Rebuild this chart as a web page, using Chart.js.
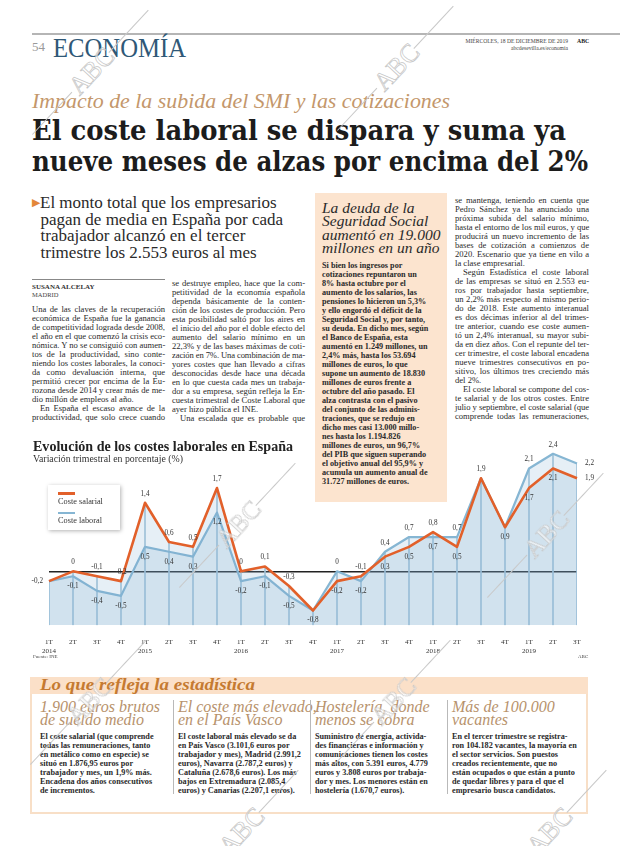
<!DOCTYPE html>
<html lang="es">
<head>
<meta charset="utf-8">
<script src="https://cdn.jsdelivr.net/npm/chart.js@4.4.1/dist/chart.umd.min.js"></script>
<style>
body{margin:0;background:#fff}
#page{position:relative;width:620px;height:846px;overflow:hidden;font-family:"Liberation Serif",serif;color:#222;background:#fff}
.a{position:absolute}
.fit{white-space:nowrap;transform-origin:0 0;display:inline-block}
.col{position:absolute;font-size:8.6px;color:#2a2a2a}
.col .l{height:9px;line-height:9px;white-space:nowrap;text-align:justify;text-align-last:justify}
.col .l.end{text-align-last:left}
.col .l.ind{text-indent:8px}
.rag .l{text-align:left;text-align-last:left}
.bold{font-weight:bold}
.sep{position:absolute;width:1px;background:#b9b9b9}
.wm{position:absolute;width:170px;height:30px;transform-origin:50% 50%;pointer-events:none}
.wm .ln{position:absolute;left:0;right:0;top:15px;height:1px;background:#c8c8c8}
.wm .tx{position:absolute;left:60px;width:50px;top:1px;text-align:center;font:26px "Liberation Serif",serif;color:rgba(255,255,255,.6);-webkit-text-stroke:.7px #c4c4c4}
</style>
</head>
<body>
<div id="page">
  <!-- cabecera -->
  <div class="a" style="left:32px;top:33px;width:588px;height:2px;background:#b5b5b5"></div>
  <div class="a" style="left:32px;top:39px;font-size:13px;color:#9a9a9a">54</div>
  <div class="a fit" data-w="133" style="left:53px;top:33px;font-size:27px;color:#2f5877">ECONOMÍA</div>
  <div class="a" style="left:440px;top:38px;width:128px;text-align:right;font-size:5.6px;line-height:7px;color:#444">MIÉRCOLES, 18 DE DICIEMBRE DE 2019<br>abcdesevilla.es/economia</div>
  <div class="a bold" style="left:577px;top:38px;font-size:5.8px;line-height:7px">ABC</div>

  <div class="a fit" data-w="418" style="left:32px;top:89px;font-size:21px;font-style:italic;color:#c4976b">Impacto de la subida del SMI y las cotizaciones</div>
  <div class="a fit" data-w="534" style="left:32px;top:115px;font-family:'DejaVu Serif',serif;font-weight:bold;font-size:27px;color:#1c1c1c">El coste laboral se dispara y suma ya</div>
  <div class="a fit" data-w="556" style="left:32px;top:146px;font-family:'DejaVu Serif',serif;font-weight:bold;font-size:27px;color:#1c1c1c">nueve meses de alzas por encima del 2%</div>

  <div class="a" style="left:32px;top:194px;font-size:17px;line-height:16.7px;color:#2a2a2a;white-space:nowrap">
    <span style="color:#e3873a;font-size:11px;vertical-align:2px">▶</span>El monto total que los empresarios<br>
    &nbsp;&nbsp;pagan de media en España por cada<br>
    &nbsp;&nbsp;trabajador alcanzó en el tercer<br>
    &nbsp;&nbsp;trimestre los 2.553 euros al mes
  </div>

  <div class="a" style="left:32px;top:279px;width:133px;height:1px;background:#888"></div>
  <div class="a bold" style="left:32px;top:283px;font-size:7px;color:#333">SUSANA ALCELAY</div>
  <div class="a" style="left:32px;top:291px;font-size:6.5px;color:#444">MADRID</div>

  <div class="col" id="c1" style="left:32px;top:304.5px;width:133px"></div>
  <div class="col" id="c2" style="left:172px;top:278.5px;width:133px"></div>

  <div class="a" style="left:315px;top:193px;width:132px;height:309px;background:#fce4cf"></div>
  <div class="a" style="left:322px;top:201px;font-size:15.5px;line-height:13.4px;font-style:italic;color:#2a2a2a;white-space:nowrap">La deuda de la<br>Seguridad Social<br>aumentó en 19.000<br>millones en un año</div>
  <div class="col rag bold" id="c3" style="left:322px;top:260.5px;width:124px;font-size:8.2px"></div>

  <div class="col" id="c4" style="left:455px;top:195.5px;width:134px"></div>

  <!-- gráfico -->
  <div class="a" style="left:0;top:436px;width:620px;height:232px">
    <canvas id="chart" width="620" height="232"></canvas>
  </div>
  <div class="a fit bold" data-w="260" style="left:33px;top:438px;font-size:14.5px;color:#222">Evolución de los costes laborales en España</div>
  <div class="a fit" data-w="150" style="left:33px;top:454px;font-size:9.5px;color:#333">Variación trimestral en porcentaje (%)</div>
  <div class="a" style="left:48px;top:485px;width:72px;height:45px;background:#fff;box-shadow:1px 1px 4px rgba(0,0,0,.3)">
    <div class="a" style="left:10px;top:7px;width:17px;height:2.8px;background:#e2602a"></div>
    <div class="a" style="left:10px;top:12px;font-size:8.3px;color:#333">Coste salarial</div>
    <div class="a" style="left:10px;top:27px;width:17px;height:1.6px;background:#86b6d3"></div>
    <div class="a" style="left:10px;top:31px;font-size:8.3px;color:#333">Coste laboral</div>
  </div>
  <div class="a" style="left:33px;top:654px;font-size:5px;color:#444">Fuente: INE</div>
  <div class="a" style="left:578px;top:654px;font-size:5px;color:#444">ABC</div>

  <!-- recuadro inferior -->
  <div class="a" style="left:30px;top:677px;width:554px;height:133px;border:2px solid #f8dfc7"></div>
  <div class="a" style="left:30px;top:677px;width:558px;height:17px;background:#fbe0c8"></div>
  <div class="a fit bold" data-w="215" style="left:40px;top:675px;font-size:17px;font-style:italic;color:#c57a31">Lo que refleja la estadística</div>

  <div class="a" style="left:40px;top:700px;font-size:16px;line-height:13px;font-style:italic;color:#b7926c;white-space:nowrap">1.900 euros brutos<br>de sueldo medio</div>
  <div class="col rag bold" id="b1" style="left:40px;top:732.4px;width:130px;font-size:8.2px"></div>
  <div class="sep" style="left:173px;top:700px;height:94px"></div>
  <div class="a" style="left:178px;top:700px;font-size:16px;line-height:13px;font-style:italic;color:#b7926c;white-space:nowrap">El coste más elevado,<br>en el País Vasco</div>
  <div class="col rag bold" id="b2" style="left:178px;top:732.4px;width:130px;font-size:8.2px"></div>
  <div class="sep" style="left:310px;top:700px;height:94px"></div>
  <div class="a" style="left:315px;top:700px;font-size:16px;line-height:13px;font-style:italic;color:#b7926c;white-space:nowrap">Hostelería, donde<br>menos se cobra</div>
  <div class="col rag bold" id="b3" style="left:315px;top:732.4px;width:128px;font-size:8.2px"></div>
  <div class="sep" style="left:447px;top:700px;height:94px"></div>
  <div class="a" style="left:452px;top:700px;font-size:16px;line-height:13px;font-style:italic;color:#b7926c;white-space:nowrap">Más de 100.000<br>vacantes</div>
  <div class="col rag bold" id="b4" style="left:452px;top:732.4px;width:132px;font-size:8.2px"></div>
</div>

<script>
// datos del gráfico
const quarters = ['1T','2T','3T','4T','1T','2T','3T','4T','1T','2T','3T','4T','1T','2T','3T','4T','1T','2T','3T','4T','1T','2T','3T'];
const years = ['2014','2015','2016','2017','2018','2019'];
const costeSalarial = [-0.2, 0, -0.1, -0.2, 1.4, 0.6, 0.5, 1.7, 0, 0.1, -0.3, -0.8, -0.2, -0.1, 0.3, 0.5, 0.8, 0.5, 1.9, 0.9, 1.7, 2.1, 1.9];
const costeLaboral = [-0.2, -0.1, -0.4, -0.5, 0.5, 0.4, 0.3, 1.2, -0.2, -0.1, -0.5, -0.8, 0, -0.2, 0.4, 0.7, 0.7, 0.7, 1.9, 0.9, 2.1, 2.4, 2.2];

// textos de columnas (¶ = fin de párrafo, > = sangría)
const textC1 = `Una de las claves de la recuperación
económica de España fue la ganancia
de competitividad lograda desde 2008,
el año en el que comenzó la crisis eco-
nómica. Y no se consiguió con aumen-
tos de la productividad, sino conte-
niendo los costes laborales, la conoci-
da como devaluación interna, que
permitió crecer por encima de la Eu-
rozona desde 2014 y crear más de me-
dio millón de empleos al año.¶
>En España el escaso avance de la
productividad, que solo crece cuando`;
const textC2 = `se destruye empleo, hace que la com-
petitividad de la economía española
dependa básicamente de la conten-
ción de los costes de producción. Pero
esta posibilidad saltó por los aires en
el inicio del año por el doble efecto del
aumento del salario mínimo en un
22,3% y de las bases máximas de coti-
zación en 7%. Una combinación de ma-
yores costes que han llevado a cifras
desconocidas desde hace una década
en lo que cuesta cada mes un trabaja-
dor a su empresa, según refleja la En-
cuesta trimestral de Coste Laboral que
ayer hizo pública el INE.¶
>Una escalada que es probable que`;
const textC3 = `Si bien los ingresos por
cotizaciones repuntaron un
8% hasta octubre por el
aumento de los salarios, las
pensiones lo hicieron un 5,3%
y ello engordó el déficit de la
Seguridad Social y, por tanto,
su deuda. En dicho mes, según
el Banco de España, esta
aumentó en 1.249 millones, un
2,4% más, hasta los 53.694
millones de euros, lo que
supone un aumento de 18.830
millones de euros frente a
octubre del año pasado. El
alza contrasta con el pasivo
del conjunto de las adminis-
traciones, que se redujo en
dicho mes casi 13.000 millo-
nes hasta los 1.194.826
millones de euros, un 96,7%
del PIB que siguen superando
el objetivo anual del 95,9% y
acumula un aumento anual de
31.727 millones de euros.`;
const textC4 = `se mantenga, teniendo en cuenta que
Pedro Sánchez ya ha anunciado una
próxima subida del salario mínimo,
hasta el entorno de los mil euros, y que
producirá un nuevo incremento de las
bases de cotización a comienzos de
2020. Escenario que ya tiene en vilo a
la clase empresarial.¶
>Según Estadística el coste laboral
de las empresas se situó en 2.553 eu-
ros por trabajador hasta septiembre,
un 2,2% más respecto al mismo perio-
do de 2018. Este aumento interanual
es dos décimas inferior al del trimes-
tre anterior, cuando ese coste aumen-
tó un 2,4% interanual, su mayor subi-
da en diez años. Con el repunte del ter-
cer trimestre, el coste laboral encadena
nueve trimestres consecutivos en po-
sitivo, los últimos tres creciendo más
del 2%.¶
>El coste laboral se compone del cos-
te salarial y de los otros costes. Entre
julio y septiembre, el coste salarial (que
comprende todas las remuneraciones,`;
const textB1 = `El coste salarial (que comprende
todas las remuneraciones, tanto
en metálico como en especie) se
situó en 1.876,95 euros por
trabajador y mes, un 1,9% más.
Encadena dos años consecutivos
de incrementos.`;
const textB2 = `El coste laboral más elevado se da
en País Vasco (3.101,6 euros por
trabajador y mes), Madrid (2.991,2
euros), Navarra (2.787,2 euros) y
Cataluña (2.678,6 euros). Los más
bajos en Extremadura (2.085,4
euros) y Canarias (2.207,1 euros).`;
const textB3 = `Suministro de energía, activida-
des financieras e información y
comunicaciones tienen los costes
más altos, con 5.391 euros, 4.779
euros y 3.808 euros por trabaja-
dor y mes. Los menores están en
hostelería (1.670,7 euros).`;
const textB4 = `En el tercer trimestre se registra-
ron 104.182 vacantes, la mayoría en
el sector servicios. Son puestos
creados recientemente, que no
están ocupados o que están a punto
de quedar libres y para el que el
empresario busca candidatos.`;

function setLines(id, text) {
  const box = document.getElementById(id);
  const rows = text.split('\n');
  rows.forEach((raw, i) => {
    const d = document.createElement('div');
    d.className = 'l';
    let t = raw;
    if (t.startsWith('>')) { d.classList.add('ind'); t = t.slice(1); }
    if (t.endsWith('¶') || i === rows.length - 1 && id !== 'c1' && id !== 'c2' && id !== 'c4') { d.classList.add('end'); }
    d.textContent = t.replace('¶', '');
    box.appendChild(d);
  });
}
setLines('c1', textC1);
setLines('c2', textC2);
setLines('c3', textC3);
setLines('c4', textC4);
setLines('b1', textB1);
setLines('b2', textB2);
setLines('b3', textB3);
setLines('b4', textB4);

// ajustar líneas que no caben
document.querySelectorAll('.col .l').forEach(d => {
  const over = d.scrollWidth - d.clientWidth;
  if (over > 0) d.style.letterSpacing = (-(over + 0.5) / d.textContent.length) + 'px';
});
document.querySelectorAll('.fit').forEach(el => {
  const w = el.getBoundingClientRect().width;
  el.style.transform = `scaleX(${el.dataset.w / w})`;
});

// marcas de agua
[[90, 72], [395, 68], [237, 525], [545, 535], [88, 702], [392, 702], [240, 832], [548, 832]].forEach(([x, y]) => {
  const w = document.createElement('div');
  w.className = 'wm';
  w.style.left = (x - 85) + 'px';
  w.style.top = (y - 15) + 'px';
  w.style.transform = 'rotate(-47deg)';
  w.innerHTML = '<div class="ln" style="right:112px"></div><div class="ln" style="left:112px"></div><div class="tx">ABC</div>';
  document.getElementById('page').appendChild(w);
});

const axisLabels = quarters.map((q, i) => q === '1T' ? [q, years[Math.floor(i / 4)]] : q);
const gridTops = costeSalarial.map((v, i) => [-1.1, Math.max(v, costeLaboral[i])]);
const fmt = v => String(v).replace('.', ',');

const valueLabels = {
  id: 'valueLabels',
  afterDatasetsDraw(chart) {
    const ctx = chart.ctx;
    const sal = chart.getDatasetMeta(1).data;
    const lab = chart.getDatasetMeta(2).data;
    const last = costeSalarial.length - 1;
    ctx.save();
    ctx.font = '7.2px "Liberation Serif"';
    ctx.fillStyle = '#333';
    ctx.textBaseline = 'middle';
    costeSalarial.forEach((s, i) => {
      const l = costeLaboral[i];
      const ps = sal[i], pl = lab[i];
      if (i === last) {
        ctx.textAlign = 'left';
        ctx.fillText(fmt(s), ps.x + 8, ps.y);
        ctx.fillText(fmt(l), pl.x + 8, pl.y);
        return;
      }
      ctx.textAlign = 'center';
      if (s === l) {
        if (i === 0) {
          ctx.textAlign = 'right';
          ctx.fillText(fmt(s), ps.x - 6, ps.y);
          return;
        }
        const isPeak = s >= Math.max(costeSalarial[i - 1], costeLaboral[i - 1]);
        ctx.fillText(fmt(s), ps.x, isPeak ? ps.y - 9 : ps.y + 10);
        return;
      }
      const up = s > l ? ps : pl, down = s > l ? pl : ps;
      ctx.fillText(fmt(Math.max(s, l)), up.x, up.y - 9);
      ctx.fillText(fmt(Math.min(s, l)), down.x, down.y + 10);
    });
    ctx.restore();
  }
};

new Chart(document.getElementById('chart').getContext('2d'), {
  data: {
    labels: axisLabels,
    datasets: [
      {
        type: 'bar',
        data: gridTops,
        backgroundColor: '#a9c7da',
        barThickness: 1,
        order: 3
      },
      {
        type: 'line',
        label: 'Coste salarial',
        data: costeSalarial,
        borderColor: '#e2602a',
        borderWidth: 2.6,
        backgroundColor: 'rgba(120,172,208,0.19)',
        fill: 'start',
        tension: 0,
        pointRadius: 0,
        borderJoinStyle: 'round',
        order: 1
      },
      {
        type: 'line',
        label: 'Coste laboral',
        data: costeLaboral,
        borderColor: '#86b6d3',
        borderWidth: 2.2,
        backgroundColor: 'rgba(120,172,208,0.19)',
        fill: 'start',
        tension: 0,
        pointRadius: 0,
        borderJoinStyle: 'round',
        order: 2
      }
    ]
  },
  options: {
    responsive: false,
    animation: false,
    devicePixelRatio: 1,
    layout: { padding: { left: 49, right: 43, top: 8, bottom: 8 } },
    plugins: { legend: { display: false }, tooltip: { enabled: false } },
    scales: {
      x: {
        offset: false,
        grid: { display: false },
        border: { display: false },
        ticks: {
          autoSkip: false,
          maxRotation: 0,
          padding: 5,
          color: '#333',
          font: { family: 'Liberation Serif', size: 7, lineHeight: 1.2 }
        }
      },
      y: {
        min: -1.1,
        max: 2.6,
        ticks: { display: false, stepSize: 0.5 },
        border: { display: false },
        grid: {
          drawTicks: false,
          lineWidth: 1.5,
          color: c => c.tick && c.tick.value === 0 ? '#222' : 'rgba(0,0,0,0)'
        }
      }
    }
  },
  plugins: [valueLabels]
});
</script>
</body>
</html>
